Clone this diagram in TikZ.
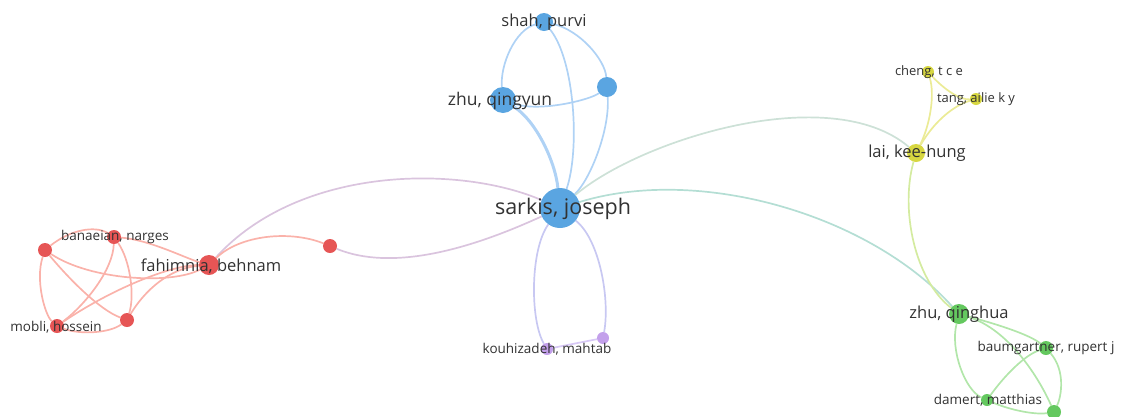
\documentclass[tikz,border=0pt]{standalone}
\usepackage{fontspec}
\setmainfont{Open Sans}
\usetikzlibrary{backgrounds}

\definecolor{labelgray}{RGB}{50,50,50}
\definecolor{bluenode}{RGB}{90,165,225}
\definecolor{blueedge}{RGB}{175,210,245}
\definecolor{rednode}{RGB}{230,85,85}
\definecolor{rededge}{RGB}{250,178,170}
\definecolor{yellownode}{RGB}{215,215,65}
\definecolor{yellowedge}{RGB}{235,235,150}
\definecolor{greennode}{RGB}{100,200,95}
\definecolor{greenedge}{RGB}{178,230,170}
\definecolor{purplenode}{RGB}{195,160,235}
\definecolor{purpleedge}{RGB}{215,200,245}
\definecolor{blueredge}{RGB}{218,196,222}
\definecolor{blueyellowedge}{RGB}{205,225,215}
\definecolor{bluegreenedge}{RGB}{180,222,212}
\definecolor{bluepurpleedge}{RGB}{200,200,242}
\definecolor{yellowgreenedge}{RGB}{212,235,160}

\begin{document}
\begin{tikzpicture}[x=1pt,y=-1pt,
    vnode/.style={circle,inner sep=0pt,minimum size=#1},
    lbl/.style={text=labelgray,inner sep=0pt,font=\fontsize{#1}{#1}\selectfont},
    link/.style={line width=1.7pt}]
    \useasboundingbox (0,0) rectangle (1124,416);

    % blue cluster
    \node[vnode=40pt, fill=bluenode] (sarkis) at (560,208) {};
    \node[vnode=26pt, fill=bluenode] (qingyun) at (503,100) {};
    \node[vnode=18pt, fill=bluenode] (shah) at (544,22) {};
    \node[vnode=20pt, fill=bluenode] (blueb) at (607,87) {};
    % red cluster
    \node[vnode=20pt, fill=rednode] (fahimnia) at (209,265) {};
    \node[vnode=14pt, fill=rednode] (redb) at (330,246) {};
    \node[vnode=14pt, fill=rednode] (banaeian) at (114,237) {};
    \node[vnode=14pt, fill=rednode] (redc) at (45,250) {};
    \node[vnode=14pt, fill=rednode] (redd) at (127,320) {};
    \node[vnode=14pt, fill=rednode] (mobli) at (57,326) {};
    % yellow cluster
    \node[vnode=12pt, fill=yellownode] (cheng) at (928,72) {};
    \node[vnode=12pt, fill=yellownode] (tang) at (976,99) {};
    \node[vnode=18pt, fill=yellownode] (lai) at (916,153) {};
    % green cluster
    \node[vnode=20pt, fill=greennode] (qinghua) at (959,314) {};
    \node[vnode=14pt, fill=greennode] (baum) at (1046,348) {};
    \node[vnode=12pt, fill=greennode] (damert) at (987,400) {};
    \node[vnode=14pt, fill=greennode] (greenb) at (1054,412) {};
    % purple cluster
    \node[vnode=12pt, fill=purplenode] (kouhi) at (547,349) {};
    \node[vnode=12pt, fill=purplenode] (purpleb) at (603,338) {};

    \begin{scope}[on background layer]
        % blue links
        \draw[blueedge, line width=3pt] (sarkis) .. controls (555,160) and (535,120) .. (qingyun);
        \draw[link, blueedge] (sarkis) .. controls (580,150) and (575,60) .. (shah);
        \draw[link, blueedge] (sarkis) .. controls (590,180) and (610,130) .. (blueb);
        \draw[link, blueedge] (shah) .. controls (515,30) and (500,65) .. (qingyun);
        \draw[link, blueedge] (shah) .. controls (580,30) and (605,60) .. (blueb);
        \draw[link, blueedge] (qingyun) .. controls (540,112) and (590,100) .. (blueb);
        % links leaving the centre
        \draw[link, blueredge] (sarkis) .. controls (460,165) and (300,165) .. (fahimnia);
        \draw[link, blueredge] (sarkis) .. controls (490,240) and (400,275) .. (redb);
        \draw[link, bluepurpleedge] (sarkis) .. controls (530,250) and (530,320) .. (kouhi);
        \draw[link, bluepurpleedge] (sarkis) .. controls (600,240) and (610,300) .. (purpleb);
        \draw[link, blueyellowedge] (sarkis) .. controls (640,140) and (830,80) .. (lai);
        \draw[link, bluegreenedge] (sarkis) .. controls (700,165) and (870,215) .. (qinghua);
        \draw[link, yellowgreenedge] (lai) .. controls (900,210) and (915,280) .. (qinghua);
        % red links
        \draw[link, rededge] (fahimnia) .. controls (240,235) and (290,230) .. (redb);
        \draw[link, rededge] (fahimnia) .. controls (185,258) and (150,240) .. (banaeian);
        \draw[link, rededge] (fahimnia) .. controls (170,285) and (90,280) .. (redc);
        \draw[link, rededge] (fahimnia) .. controls (170,265) and (110,290) .. (mobli);
        \draw[link, rededge] (fahimnia) .. controls (170,268) and (145,290) .. (redd);
        \draw[link, rededge] (banaeian) .. controls (95,225) and (70,230) .. (redc);
        \draw[link, rededge] (banaeian) .. controls (113,270) and (85,305) .. (mobli);
        \draw[link, rededge] (banaeian) .. controls (130,260) and (135,295) .. (redd);
        \draw[link, rededge] (redc) .. controls (35,280) and (45,315) .. (mobli);
        \draw[link, rededge] (redc) .. controls (70,280) and (100,310) .. (redd);
        \draw[link, rededge] (mobli) .. controls (80,335) and (110,333) .. (redd);
        % yellow links
        \draw[link, yellowedge] (lai) .. controls (930,125) and (935,95) .. (cheng);
        \draw[link, yellowedge] (lai) .. controls (935,120) and (955,105) .. (tang);
        \draw[link, yellowedge] (cheng) .. controls (945,90) and (960,100) .. (tang);
        % green links
        \draw[link, greenedge] (qinghua) .. controls (1000,325) and (1030,335) .. (baum);
        \draw[link, greenedge] (qinghua) .. controls (950,350) and (965,390) .. (damert);
        \draw[link, greenedge] (qinghua) .. controls (1010,330) and (1040,380) .. (greenb);
        \draw[link, greenedge] (baum) .. controls (1065,370) and (1062,395) .. (greenb);
        \draw[link, greenedge] (damert) .. controls (1005,375) and (1025,355) .. (baum);
        \draw[link, greenedge] (damert) .. controls (1010,410) and (1035,415) .. (greenb);
        % purple link
        \draw[link, purpleedge] (kouhi) -- (purpleb);
    \end{scope}

    % labels
    \node[lbl=21.5] (sarkislbl) at (563,209) {sarkis, joseph};
    \node[lbl=17.5] (qingyunlbl) at (500,101) {zhu, qingyun};
    \node[lbl=16.5] (shahlbl) at (544,22) {shah, purvi};
    \node[lbl=16.5] (fahimnialbl) at (211,266) {fahimnia, behnam};
    \node[lbl=13.5] (banaeianlbl) at (115,237) {banaeian, narges};
    \node[lbl=13.5] (moblilbl) at (56,327) {mobli, hossein};
    \node[lbl=13] (chenglbl) at (929,72) {cheng, t c e};
    \node[lbl=13] (tanglbl) at (976,99) {tang, ailie k y};
    \node[lbl=16.5] (lailbl) at (917,153) {lai, kee-hung};
    \node[lbl=16.5] (qinghualbl) at (959,314) {zhu, qinghua};
    \node[lbl=13.5] (baumlbl) at (1046,348) {baumgartner, rupert j};
    \node[lbl=13.5] (damertlbl) at (988,400) {damert, matthias};
    \node[lbl=13.5] (kouhilbl) at (547,349) {kouhizadeh, mahtab};
\end{tikzpicture}
\end{document}
